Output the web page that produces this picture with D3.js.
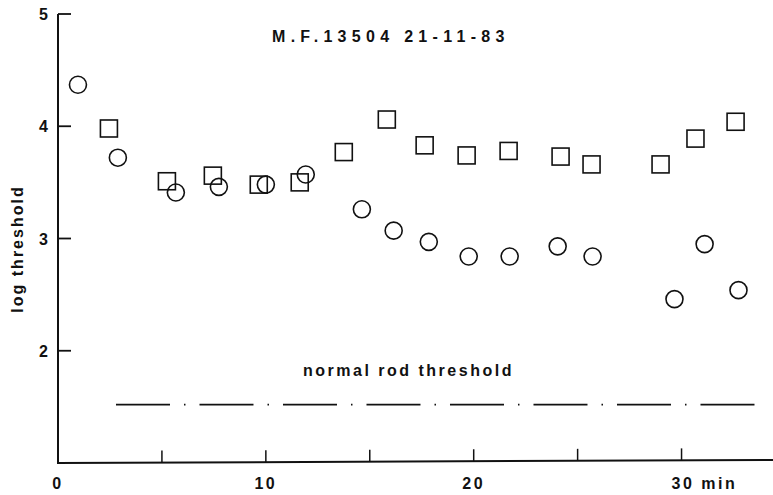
<!DOCTYPE html>
<html>
<head>
<meta charset="utf-8">
<script src="https://cdn.jsdelivr.net/npm/d3@7"></script>
<style>
  body { margin: 0; background: #fff; }
  text { font-family: "Liberation Sans", Arial, sans-serif; fill: #111; }
</style>
</head>
<body>
<div id="chart"></div>
<script>
// circles (time in min, log threshold)
const circleTimes = [0.96, 2.88, 5.67, 7.74, 10.0, 11.92, 14.62, 16.15, 17.84, 19.76, 21.73, 24.04, 25.72, 29.66, 31.11, 32.74];
const circleValues = [4.37, 3.72, 3.41, 3.46, 3.48, 3.57, 3.26, 3.07, 2.97, 2.84, 2.84, 2.93, 2.84, 2.46, 2.95, 2.54];
// squares
const squareTimes = [2.45, 5.24, 7.45, 9.66, 11.63, 13.75, 15.82, 17.64, 19.66, 21.68, 24.18, 25.67, 28.99, 30.67, 32.6];
const squareValues = [3.98, 3.51, 3.56, 3.48, 3.50, 3.77, 4.06, 3.83, 3.74, 3.78, 3.73, 3.66, 3.66, 3.89, 4.04];

const yTicks = [2, 3, 4, 5];
const xTicks = [5, 10, 15, 20, 25, 30];
const xLabels = ["0", "10", "20", "30 min"];
const xLabelValues = [0, 10, 20, 30];
const rodThreshold = 1.52;
const rodRange = [2.79, 33.56];

const W = 773, H = 495;
const svg = d3.select("#chart").append("svg")
  .attr("width", W).attr("height", H);

const x = d3.scaleLinear().domain([0, 34.4]).range([58, 773]);
const y = d3.scaleLinear().domain([1, 5]).range([463, 14]);

// axes
svg.append("line")
  .attr("x1", x(0)).attr("x2", x(0))
  .attr("y1", y(5)).attr("y2", y(1))
  .attr("stroke", "#111").attr("stroke-width", 2);
svg.append("line")
  .attr("x1", x(0) - 1).attr("x2", W)
  .attr("y1", y(1)).attr("y2", y(1) - 3)
  .attr("stroke", "#111").attr("stroke-width", 2);

// y ticks point inward
svg.selectAll(".ytick").data(yTicks).join("line")
  .attr("x1", x(0)).attr("x2", x(0) + 13)
  .attr("y1", d => y(d)).attr("y2", d => y(d))
  .attr("stroke", "#111").attr("stroke-width", 1.8);

svg.selectAll(".ylab").data(yTicks).join("text")
  .attr("x", 48).attr("y", d => y(d) + 6)
  .attr("text-anchor", "end")
  .style("font-size", "16px").style("font-weight", "bold")
  .text(d => d);

// x ticks point up
svg.selectAll(".xtick").data(xTicks).join("line")
  .attr("x1", d => x(d)).attr("x2", d => x(d))
  .attr("y1", d => y(1) - 3 * (x(d) - 58) / 715).attr("y2", d => y(1) - 12 - 3 * (x(d) - 58) / 715)
  .attr("stroke", "#111").attr("stroke-width", 1.5);

svg.selectAll(".xlab").data(xLabelValues).join("text")
  .attr("x", (d, i) => i === 3 ? x(d) - 10 : x(d))
  .attr("y", 489)
  .attr("text-anchor", (d, i) => i === 3 ? "start" : "middle")
  .style("font-size", "16px").style("font-weight", "bold")
  .style("letter-spacing", "2.5px")
  .text((d, i) => xLabels[i]);

svg.append("text")
  .attr("transform", `translate(23,${249}) rotate(-90)`)
  .attr("text-anchor", "middle")
  .style("font-size", "16px").style("font-weight", "bold")
  .style("letter-spacing", "2px")
  .text("log threshold");

svg.append("text")
  .attr("x", 272).attr("y", 42)
  .style("font-size", "16px").style("font-weight", "bold")
  .style("letter-spacing", "5.3px")
  .text("M.F.13504 21-11-83");

svg.append("text")
  .attr("x", 303).attr("y", 376)
  .style("font-size", "16px").style("font-weight", "bold")
  .style("letter-spacing", "2.5px")
  .text("normal rod threshold");

// normal rod threshold: dash-dot line
svg.append("line")
  .attr("x1", x(rodRange[0])).attr("x2", x(rodRange[1]))
  .attr("y1", y(rodThreshold)).attr("y2", y(rodThreshold))
  .attr("stroke", "#111").attr("stroke-width", 1.8)
  .attr("stroke-dasharray", "54 14 1.5 14");

// markers
svg.selectAll(".sq").data(squareTimes).join("rect")
  .attr("x", (d, i) => x(d) - 8.5)
  .attr("y", (d, i) => y(squareValues[i]) - 8.5)
  .attr("width", 17).attr("height", 17)
  .attr("fill", "none").attr("stroke", "#111").attr("stroke-width", 1.6);

svg.selectAll(".ci").data(circleTimes).join("circle")
  .attr("cx", d => x(d))
  .attr("cy", (d, i) => y(circleValues[i]))
  .attr("r", 8.5)
  .attr("fill", "none").attr("stroke", "#111").attr("stroke-width", 1.6);
</script>
</body>
</html>
